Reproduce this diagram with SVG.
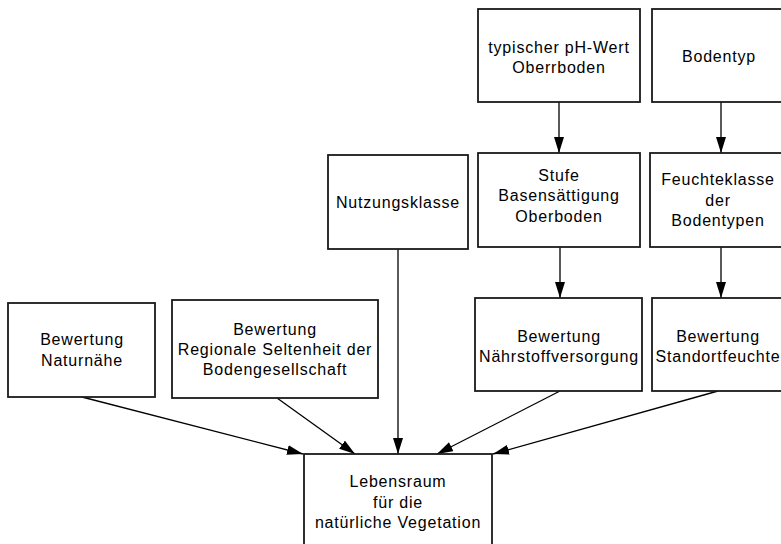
<svg xmlns="http://www.w3.org/2000/svg" width="781" height="544" viewBox="0 0 781 544">
  <style>
    .box { fill: #ffffff; stroke: #1a1a1a; stroke-width: 1.8; }
    .lbl { font-family: "Liberation Sans", Arial, sans-serif; font-size: 16px; letter-spacing: 0.8px; fill: #000000; text-anchor: middle; }
    .edge { stroke: #000000; stroke-width: 1.3; fill: none; marker-end: url(#head); }
  </style>
  <defs>
    <marker id="head" viewBox="0 0 16 10" refX="16" refY="5" markerWidth="16" markerHeight="10" markerUnits="userSpaceOnUse" orient="auto">
      <path d="M0,0 L16,5 L0,10 Z" fill="#000000"/>
    </marker>
  </defs>
  <rect width="781" height="544" fill="#ffffff"/>

  <g id="connectors">
    <line class="edge" x1="559" y1="102" x2="559" y2="153"/>
    <line class="edge" x1="721" y1="102" x2="721" y2="153"/>
    <line class="edge" x1="560" y1="247" x2="560" y2="298"/>
    <line class="edge" x1="721" y1="247" x2="721" y2="298"/>
    <line class="edge" x1="398" y1="249" x2="398" y2="454"/>
    <line class="edge" x1="82" y1="397" x2="303" y2="454"/>
    <line class="edge" x1="277" y1="398" x2="355" y2="454"/>
    <line class="edge" x1="560" y1="391" x2="437" y2="454"/>
    <line class="edge" x1="718" y1="391" x2="493" y2="454"/>
  </g>

  <g id="ph-wert">
    <rect class="box" x="478" y="9" width="162" height="93"/>
    <text class="lbl" x="559" y="53">typischer pH-Wert</text>
    <text class="lbl" x="559" y="73">Oberrboden</text>
  </g>

  <g id="bodentyp">
    <rect class="box" x="652" y="9" width="150" height="93"/>
    <text class="lbl" x="719" y="62">Bodentyp</text>
  </g>

  <g id="nutzungsklasse">
    <rect class="box" x="328" y="155" width="140" height="94"/>
    <text class="lbl" x="398" y="208">Nutzungsklasse</text>
  </g>

  <g id="basensaettigung">
    <rect class="box" x="478" y="153" width="162" height="94"/>
    <text class="lbl" x="559" y="181">Stufe</text>
    <text class="lbl" x="559" y="201">Basensättigung</text>
    <text class="lbl" x="559" y="222">Oberboden</text>
  </g>

  <g id="feuchteklasse">
    <rect class="box" x="650" y="153" width="150" height="94"/>
    <text class="lbl" x="718" y="185">Feuchteklasse</text>
    <text class="lbl" x="718" y="206">der</text>
    <text class="lbl" x="718" y="226">Bodentypen</text>
  </g>

  <g id="naturnaehe">
    <rect class="box" x="8" y="303" width="147" height="94"/>
    <text class="lbl" x="82" y="345">Bewertung</text>
    <text class="lbl" x="82" y="366">Naturnähe</text>
  </g>

  <g id="seltenheit">
    <rect class="box" x="172" y="300" width="206" height="98"/>
    <text class="lbl" x="275" y="335">Bewertung</text>
    <text class="lbl" x="275" y="355">Regionale Seltenheit der</text>
    <text class="lbl" x="275" y="375">Bodengesellschaft</text>
  </g>

  <g id="naehrstoffversorgung">
    <rect class="box" x="475" y="298" width="167" height="93"/>
    <text class="lbl" x="559" y="342">Bewertung</text>
    <text class="lbl" x="559" y="362">Nährstoffversorgung</text>
  </g>

  <g id="standortfeuchte">
    <rect class="box" x="652" y="298" width="150" height="93"/>
    <text class="lbl" x="718" y="342">Bewertung</text>
    <text class="lbl" x="718" y="362">Standortfeuchte</text>
  </g>

  <g id="lebensraum">
    <rect class="box" x="304" y="454" width="188" height="100"/>
    <text class="lbl" x="398" y="487">Lebensraum</text>
    <text class="lbl" x="398" y="508">für die</text>
    <text class="lbl" x="398" y="528">natürliche Vegetation</text>
  </g>
</svg>
